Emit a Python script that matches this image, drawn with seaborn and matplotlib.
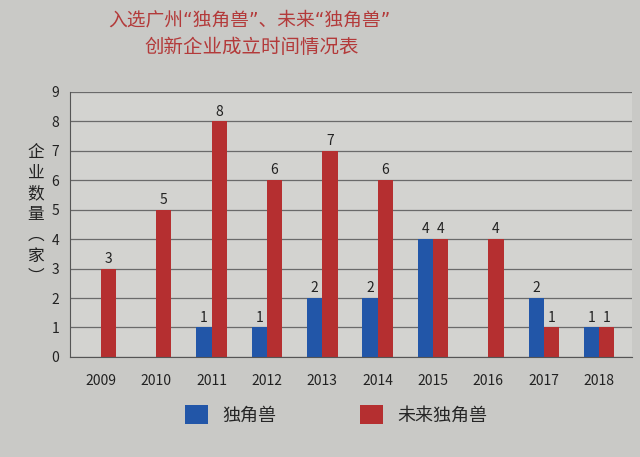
import numpy as np
import pandas as pd
import matplotlib
matplotlib.use('Agg')
import matplotlib.pyplot as plt
import seaborn as sns
from matplotlib.patches import Patch

# 数据
years = ['2009', '2010', '2011', '2012', '2013', '2014', '2015', '2016', '2017', '2018']
unicorn = [0, 0, 1, 1, 2, 2, 4, 0, 2, 1]          # 独角兽
future_unicorn = [3, 5, 8, 6, 7, 6, 4, 4, 1, 1]   # 未来独角兽
series_names = ['独角兽', '未来独角兽']
colors = ['#2256a8', '#b52f30']

df = pd.DataFrame({'year': years * 2,
                   'count': unicorn + future_unicorn,
                   'series': [series_names[0]] * len(years) + [series_names[1]] * len(years)})

sns.set_style('white')
plt.rcParams['font.family'] = ['Noto Sans CJK SC', 'DejaVu Sans']

fig = plt.figure(figsize=(6.4, 4.57), dpi=100)
fig.patch.set_facecolor('#c9c9c6')
ax = fig.add_axes([0.11, 0.219, 0.878, 0.58])
ax.set_facecolor('#d3d3d0')

sns.barplot(data=df, x='year', y='count', hue='series', palette=colors,
            saturation=1, width=0.55, ax=ax, legend=False, edgecolor='none')

# 数值标签, 0 不显示
for cont in ax.containers:
    labels = [str(int(v)) if v > 0 else '' for v in cont.datavalues]
    ax.bar_label(cont, labels=labels, padding=2, fontsize=10, color='#222222')

ax.set_ylim(0, 9)
ax.set_yticks(np.arange(0, 10, 1))
ax.set_xlim(-0.55, 9.6)
ax.yaxis.grid(True, color='#6a6a6a', linewidth=0.9)
ax.set_axisbelow(True)
ax.set_xlabel('')
ax.set_ylabel('')
for s in ['top', 'right']:
    ax.spines[s].set_visible(False)
ax.spines['left'].set_color('#555555')
ax.spines['bottom'].set_color('#555555')
ax.set_xticks(np.arange(len(years)))
ax.set_xticklabels(years)
ax.set_xticks(np.arange(len(years) - 1) + 0.5, minor=True)
ax.tick_params(axis='x', which='major', length=0, pad=12, labelsize=10, colors='#222222')
ax.tick_params(axis='x', which='minor', length=4, direction='in', color='#555555')
ax.tick_params(axis='y', length=0, pad=8, labelsize=10, colors='#222222')

# 标题
title_font = ['DejaVu Sans', 'Noto Sans CJK SC']
fig.text(0.39, 0.956, '入选广州“独角兽”、未来“独角兽”', ha='center', va='center',
         fontsize=13.5, color='#b33a3a', family=title_font)
fig.text(0.393, 0.895, '创新企业成立时间情况表', ha='center', va='center',
         fontsize=14, color='#b33a3a')

# 竖排纵轴标题
fig.text(0.056, 0.53, '\n'.join(['企', '业', '数', '量', '︵', '家', '︶']),
         ha='center', va='center', fontsize=12, linespacing=1.3, color='#222222')

# 图例
handles = [Patch(facecolor=c, edgecolor='none') for c in colors]
fig.legend(handles, series_names, loc='center', bbox_to_anchor=(0.525, 0.093), ncol=2,
           frameon=False, fontsize=13, handlelength=1.3, handleheight=1.3,
           columnspacing=4.6, handletextpad=0.8)

fig.savefig('out.png', dpi=100, facecolor=fig.get_facecolor())
